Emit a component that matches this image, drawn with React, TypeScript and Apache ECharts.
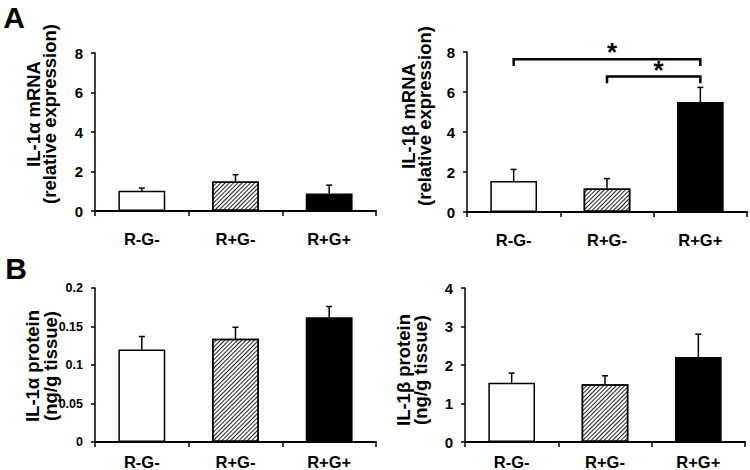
import React, { useEffect, useRef } from 'react';
import * as echarts from 'echarts';

const categories = ['R-G-', 'R+G-', 'R+G+'];

const il1aMrnaMean = [1.03, 1.5, 0.89];
const il1aMrnaErr = [0.13, 0.34, 0.42];
const il1bMrnaMean = [1.55, 1.18, 5.5];
const il1bMrnaErr = [0.58, 0.49, 0.73];
const il1aProteinMean = [0.12, 0.134, 0.162];
const il1aProteinErr = [0.017, 0.015, 0.014];
const il1bProteinMean = [1.54, 1.5, 2.21];
const il1bProteinErr = [0.25, 0.22, 0.59];

// significance brackets on IL-1β mRNA: [from index, to index, bracket level, leg end level]
const brackets = [
  [0, 2, 7.64, 7.3],
  [1, 2, 6.77, 6.44],
];
const bracketLabels = ['*', '*'];

const mrnaTicks = [0, 8, 2];
const il1aProteinTicks = [0, 0.2, 0.05];
const il1bProteinTicks = [0, 4, 1];

const FONT = 'Liberation Sans';

const fills = ['white', 'hatch', 'black'];

function itemStyleFor(kind: string) {
  if (kind === 'black') {
    return { color: '#000', borderColor: '#000', borderWidth: 1.5 };
  }
  if (kind === 'hatch') {
    return {
      color: '#fff',
      borderColor: '#000',
      borderWidth: 1.5,
      decal: {
        symbol: 'rect',
        symbolSize: 1,
        dashArrayX: [1, 0],
        dashArrayY: [1, 2],
        rotation: -Math.PI / 4,
        color: '#222',
      },
    };
  }
  return { color: '#fff', borderColor: '#000', borderWidth: 1.5 };
}

const grids = [
  { left: 95, top: 53, width: 281, height: 158 },
  { left: 467, top: 52, width: 280, height: 160 },
  { left: 95, top: 288, width: 281, height: 156 },
  { left: 465, top: 288, width: 280, height: 155 },
];

const panels = [
  { mean: il1aMrnaMean, err: il1aMrnaErr, ticks: mrnaTicks, labelMargin: 19, tickFont: 15 },
  { mean: il1bMrnaMean, err: il1bMrnaErr, ticks: mrnaTicks, labelMargin: 19, tickFont: 15 },
  { mean: il1aProteinMean, err: il1aProteinErr, ticks: il1aProteinTicks, labelMargin: 11, tickFont: 12.5 },
  { mean: il1bProteinMean, err: il1bProteinErr, ticks: il1bProteinTicks, labelMargin: 11, tickFont: 15 },
];

const axisNames = [
  { lines: ['IL-1α mRNA', '(relative expression)'], x: [33, 49.5], y: 114 },
  { lines: ['IL-1β mRNA', '(relative expression)'], x: [408, 424], y: 116 },
  { lines: ['IL-1α protein', '(ng/g tissue)'], x: [32, 50], y: 366 },
  { lines: ['IL-1β protein', '(ng/g tissue)'], x: [403, 420], y: 370 },
];

export default function App() {
  const ref = useRef<HTMLDivElement>(null);

  useEffect(() => {
    if (!ref.current) return;
    const chart = echarts.init(ref.current, undefined, { renderer: 'svg' });

    const xAxis = grids.map((_, i) => ({
      type: 'category',
      gridIndex: i,
      data: categories,
      axisLine: { lineStyle: { color: '#000', width: 2 } },
      axisTick: { show: true, alignWithLabel: false, length: 5, lineStyle: { color: '#000', width: 1.5 } },
      axisLabel: {
        color: '#000',
        fontFamily: FONT,
        fontWeight: 'bold',
        fontSize: 16.5,
        margin: panels[i].labelMargin,
      },
      splitLine: { show: false },
    }));

    const yAxis = grids.map((_, i) => ({
      type: 'value',
      gridIndex: i,
      min: panels[i].ticks[0],
      max: panels[i].ticks[1],
      interval: panels[i].ticks[2],
      axisLine: { show: true, lineStyle: { color: '#000', width: 1.5 } },
      axisTick: { show: true, length: 4, lineStyle: { color: '#000', width: 1.5 } },
      axisLabel: {
        color: '#000',
        fontFamily: FONT,
        fontWeight: 'bold',
        fontSize: panels[i].tickFont,
        margin: 12,
      },
      splitLine: { show: false },
    }));

    const series: any[] = [];
    panels.forEach((p, i) => {
      series.push({
        type: 'bar',
        xAxisIndex: i,
        yAxisIndex: i,
        barWidth: '50%',
        data: p.mean.map((v, k) => ({ value: v, itemStyle: itemStyleFor(fills[k]) })),
        z: 2,
      });
      series.push({
        type: 'custom',
        xAxisIndex: i,
        yAxisIndex: i,
        z: 3,
        clip: false,
        data: p.mean.map((v, k) => [k, v, v + p.err[k]]),
        renderItem: (params: any, api: any) => {
          const x = api.value(0);
          const p0 = api.coord([x, api.value(1)]);
          const p1 = api.coord([x, api.value(2)]);
          const hw = 3;
          return {
            type: 'group',
            children: [
              {
                type: 'line',
                shape: { x1: p0[0], y1: p0[1], x2: p1[0], y2: p1[1] },
                style: { stroke: '#000', lineWidth: 1.5 },
              },
              {
                type: 'line',
                shape: { x1: p1[0] - hw, y1: p1[1], x2: p1[0] + hw, y2: p1[1] },
                style: { stroke: '#000', lineWidth: 1.5 },
              },
            ],
          };
        },
      });
    });

    series.push({
      type: 'custom',
      xAxisIndex: 1,
      yAxisIndex: 1,
      z: 4,
      clip: false,
      data: brackets.map((b) => [b[0], b[1], b[2], b[3]]),
      renderItem: (params: any, api: any) => {
        const a = api.coord([api.value(0), api.value(2)]);
        const b = api.coord([api.value(1), api.value(2)]);
        const legY = api.coord([api.value(0), api.value(3)])[1];
        return {
          type: 'group',
          children: [
            {
              type: 'polyline',
              shape: { points: [[a[0], legY], [a[0], a[1]], [b[0], b[1]], [b[0], legY]] },
              style: { stroke: '#000', lineWidth: 2.5, fill: null },
            },
            {
              type: 'text',
              x: (a[0] + b[0]) / 2 + 5,
              y: a[1] - 7,
              style: {
                text: bracketLabels[params.dataIndex],
                fill: '#000',
                fontFamily: FONT,
                fontWeight: 'bold',
                fontSize: 26,
                align: 'center',
                verticalAlign: 'middle',
              },
            },
          ],
        };
      },
    });

    const graphic: any[] = [
      {
        type: 'text',
        x: 14,
        y: 17,
        style: { text: 'A', fill: '#000', fontFamily: FONT, fontWeight: 'bold', fontSize: 30, align: 'center', verticalAlign: 'middle' },
      },
      {
        type: 'text',
        x: 16,
        y: 268,
        style: { text: 'B', fill: '#000', fontFamily: FONT, fontWeight: 'bold', fontSize: 30, align: 'center', verticalAlign: 'middle' },
      },
    ];
    axisNames.forEach((n) => {
      n.lines.forEach((line, j) => {
        graphic.push({
          type: 'text',
          x: n.x[j],
          y: n.y,
          rotation: Math.PI / 2,
          style: {
            text: line,
            fill: '#000',
            fontFamily: FONT,
            fontWeight: 'bold',
            fontSize: 18.5,
            align: 'center',
            verticalAlign: 'middle',
          },
        });
      });
    });

    chart.setOption({
      animation: false,
      backgroundColor: '#fff',
      grid: grids,
      xAxis,
      yAxis,
      series,
      graphic,
    });

    return () => chart.dispose();
  }, []);

  return (
    <div
      ref={ref}
      style={{ position: 'fixed', left: 0, top: 0, width: 750, height: 470 }}
    />
  );
}
